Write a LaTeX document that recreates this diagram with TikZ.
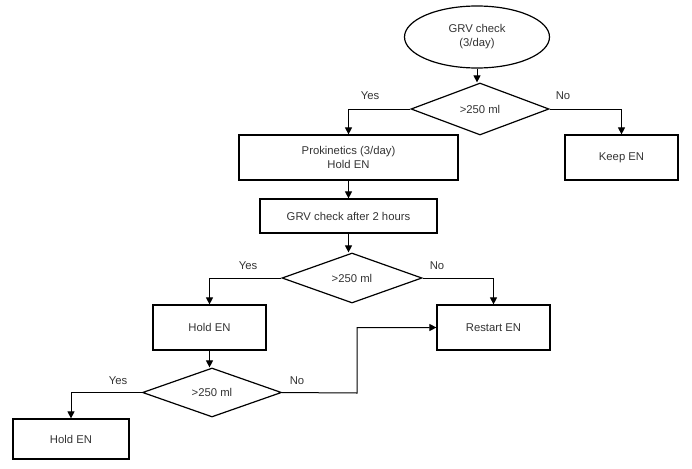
\documentclass[tikz,border=0pt]{standalone}
\usepackage{fontspec}
\setmainfont{Liberation Sans}
\usetikzlibrary{shapes.geometric,arrows.meta}
\definecolor{txt}{HTML}{333333}
\tikzset{
  base/.style={draw=black, line width=1.2pt, text=txt, font=\fontsize{11.3}{14}\selectfont, inner sep=0pt, align=center},
  procbox/.style={base, rectangle},
  decbox/.style={base, diamond},
  termbox/.style={base, ellipse},
  conn/.style={line width=1pt, -{Triangle[length=7pt,width=7pt]}},
  lbl/.style={text=txt, font=\fontsize{11.3}{14}\selectfont, inner sep=0pt}
}
\begin{document}
\begin{tikzpicture}[x=1pt,y=-1pt]
\useasboundingbox (0,0) rectangle (692,468);
\node[termbox, minimum width=145pt, minimum height=62pt] (start) at (477,37) {GRV check\\(3/day)};
\node[decbox, minimum width=138pt, minimum height=52pt] (d1) at (480,109) {>250 ml};
\node[procbox, minimum width=219pt, minimum height=45pt] (prok) at (348.5,157.5) {Prokinetics (3/day)\\Hold EN};
\node[procbox, minimum width=113pt, minimum height=45pt] (keep) at (621.5,157.5) {Keep EN};
\node[procbox, minimum width=177pt, minimum height=34pt] (grv2) at (348.5,216) {GRV check after 2 hours};
\node[decbox, minimum width=140pt, minimum height=50pt] (d2) at (352,278) {>250 ml};
\node[procbox, minimum width=113pt, minimum height=45pt] (hold1) at (209.5,327.5) {Hold EN};
\node[procbox, minimum width=113pt, minimum height=45pt] (restart) at (493.5,327.5) {Restart EN};
\node[decbox, minimum width=139pt, minimum height=49pt] (d3) at (212,392.5) {>250 ml};
\node[procbox, minimum width=116pt, minimum height=40pt] (hold2) at (71,439) {Hold EN};
\coordinate (bend) at (357,393);

\draw[conn] (start.south) -- (start.south |- d1.north);
\draw[conn] (d1.west) -| (prok.north);
\draw[conn] (d1.east) -| (keep.north);
\draw[conn] (prok.south) -- (grv2.north);
\draw[conn] (grv2.south) -- (grv2.south |- d2.north);
\draw[conn] (d2.west) -| (hold1.north);
\draw[conn] (d2.east) -| (restart.north);
\draw[conn] (hold1.south) -- (hold1.south |- d3.north);
\draw[conn] (d3.west) -| (hold2.north);
\draw[conn] (d3.east) -- (bend) |- (restart.west);

\node[lbl] (y1) at (370,96) {Yes};
\node[lbl] (n1) at (563,96) {No};
\node[lbl] (y2) at (248,266) {Yes};
\node[lbl] (n2) at (437,266) {No};
\node[lbl] (y3) at (118,381) {Yes};
\node[lbl] (n3) at (297,381) {No};
\end{tikzpicture}
\end{document}
